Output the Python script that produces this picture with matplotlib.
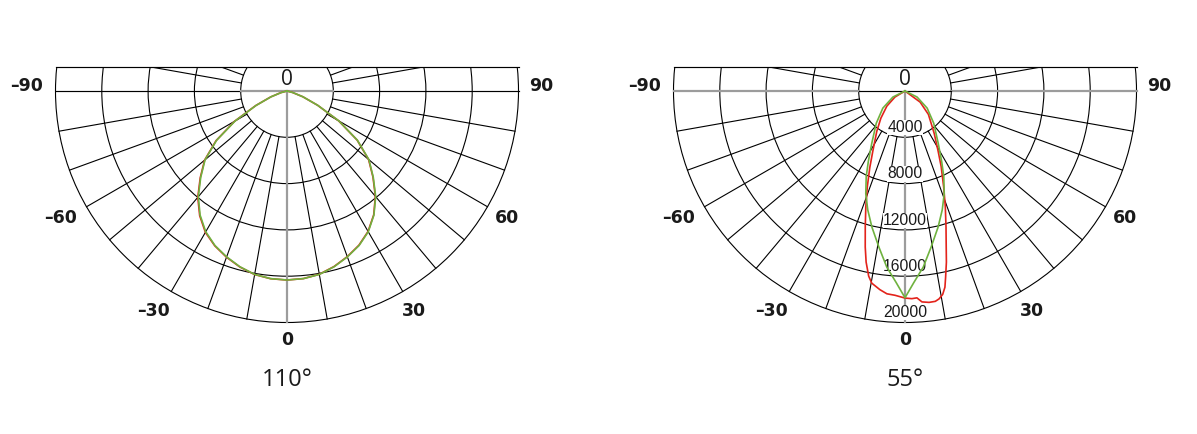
import numpy as np
import matplotlib.pyplot as plt
from matplotlib.patches import Rectangle, Circle

# figure size in pixels
W, H = 1197, 434

# polar grid (candela)
RINGS = [4000, 8000, 12000, 16000, 20000]
RING_LABELS = ["4000", "8000", "12000", "16000", "20000"]
SPOKES = list(range(-110, 111, 10))
ANGLE_TICKS = [-90, -60, -30, 0, 30, 60, 90]
ANGLE_TICK_LABELS = ["–90", "–60", "–30", "0", "30", "60", "90"]
TITLES = ["110°", "55°"]

# 110 degree beam, both planes nearly identical
wide_angles = [-90, -80, -75, -70, -65, -60, -55, -50, -45, -40, -35, -30, -25, -20, -15, -10, -5,
               0, 5, 10, 15, 20, 25, 30, 35, 40, 45, 50, 55, 60, 65, 70, 75, 80, 90]
wide_red = [0, 0, 560, 1500, 2980, 5230, 7480, 9290, 10600, 11990, 13150, 14100, 14760, 15280,
            15740, 16100, 16280, 16330, 16270, 16080, 15700, 15230, 14700, 14010, 13060, 11880,
            10500, 9200, 7400, 5150, 2920, 1460, 500, 0, 0]
wide_green = [0, 0, 520, 1470, 2940, 5180, 7430, 9240, 10540, 11920, 13090, 14040, 14730, 15250,
              15720, 16090, 16270, 16330, 16270, 16090, 15720, 15250, 14730, 14040, 13090, 11920,
              10540, 9240, 7430, 5180, 2940, 1470, 520, 0, 0]

# 55 degree beam, C0 plane (red)
narrow_red_angles = [-90, -70, -59, -50.2, -41.6, -35, -28.1, -24.7, -21.5, -18.7, -16.3, -14.3,
                     -12.8, -11.1, -9.8, -7.2, -5.1, -2.8, 0, 1.9, 3.3, 4.6, 6.5, 8.2, 9.3, 10.5,
                     11.5, 12.3, 13.6, 14.8, 16.8, 19.2, 22, 25.6, 28.8, 34.6, 45, 53.7, 70, 90]
narrow_red = [0, 0, 1010, 2040, 3140, 4250, 5910, 7280, 8880, 10560, 12230, 13910,
              15160, 16300, 16850, 17300, 17590, 17670, 17890, 17950, 17900, 18280, 18380, 18360,
              18200, 17870, 17300, 16470, 15210, 13940, 12260, 10590, 8910, 7230, 5950, 4440,
              2860, 1620, 0, 0]

# 55 degree beam, C90 plane (green)
narrow_green_angles = [-90, -75, -63.4, -52.3, -41.7, -32.4, -27.5, -24.4, -20.9, -17.4, -13.7,
                       -9.5, -5.9, -2.7, 0, 2.7, 5.9, 9.5, 13.7, 17.4, 20.9, 24.4, 27.5, 32.4,
                       41.7, 52.3, 63.4, 75, 90]
narrow_green = [0, 0, 1170, 2420, 3730, 5360, 6860, 8110, 9500, 10760, 12090,
                13670, 15300, 16540, 17860, 16540, 15300, 13670, 12090, 10760, 9500, 8110, 6860,
                5360, 3730, 2420, 1170, 0, 0]

RED = "#e3231b"
GREEN = "#6fb23f"
GRAY = "#9c9c9c"
INK = "#1a1a1a"

R = RINGS[-1]
PX = R / 231.5          # candela per pixel
CY = 91                 # pixel row of the polar origin
TOP = 23.7 * PX         # top border above origin


def to_xy(angles, values):
    a = np.radians(np.asarray(angles, dtype=float))
    r = np.asarray(values, dtype=float)
    return r * np.sin(a), -r * np.cos(a)


def draw_panel(ax, left_px, width_px, cx_px, red, green, title, show_values, outer_gray):
    ax.set_xlim(-(cx_px - left_px) * PX, (left_px + width_px - cx_px) * PX)
    ax.set_ylim(-(H - CY) * PX, CY * PX)
    ax.axis("off")

    clip = Rectangle((-R * 1.02, -R * 1.02), R * 2.04, R * 1.02 + TOP, transform=ax.transData)

    for r in RINGS:
        c = Circle((0, 0), r, fill=False, ec="black", lw=0.8, zorder=1)
        ax.add_patch(c)
        c.set_clip_path(clip)

    for a in SPOKES:
        if a in (0, -90, 90):
            continue
        x, y = to_xy([a, a], [RINGS[0], R])
        ln, = ax.plot(x, y, color="black", lw=0.8, zorder=1)
        ln.set_clip_path(clip)

    # axis lines: gray / black swap between the two diagrams
    out_col = GRAY if outer_gray else "black"
    in_col = "black" if outer_gray else GRAY
    out_lw = 1.6 if outer_gray else 0.85
    in_lw = 0.85 if outer_gray else 1.6
    ax.plot([-R, -RINGS[0]], [0, 0], color=out_col, lw=out_lw, zorder=1.5)
    ax.plot([RINGS[0], R], [0, 0], color=out_col, lw=out_lw, zorder=1.5)
    ax.plot([-RINGS[0], RINGS[0]], [0, 0], color=in_col, lw=in_lw, zorder=1.5)
    ax.plot([0, 0], [0, -R], color=GRAY, lw=1.6, zorder=1.5)
    ax.plot([-R, R], [TOP, TOP], color="black", lw=0.85, zorder=1.5)

    if show_values:
        for r, lab in zip(RINGS, RING_LABELS):
            ax.annotate(lab, (0, -r), xytext=(0, 7), textcoords="offset points",
                        ha="center", va="center", fontsize=11.3, family="Liberation Sans",
                        color=INK, zorder=3,
                        bbox=dict(fc="white", ec="none", pad=0.1))

    ax.text(0, 11 * PX, "0", ha="center", va="center", fontsize=15,
            family="Open Sans", color=INK, zorder=3)

    for a, lab in zip(ANGLE_TICKS, ANGLE_TICK_LABELS):
        rad = np.radians(a)
        dist = 249 if a == 0 else 254
        x = dist * PX * np.sin(rad)
        y = -dist * PX * np.cos(rad)
        dx = -4.5 if a < 0 else 0
        dy = 3.5 if abs(a) == 90 else 0
        ax.annotate(lab, (x, y), xytext=(dx, dy), textcoords="offset points",
                    ha="center", va="center", fontsize=12.5, family="DejaVu Sans",
                    fontweight="bold", color=INK)

    for (ang, val), col in zip((red, green), (RED, GREEN)):
        x, y = to_xy(ang, val)
        ax.plot(x, y, color=col, lw=1.2, zorder=4, solid_joinstyle="round")

    ax.text(0, -(380 - CY) * PX, title, ha="center", va="center", fontsize=17,
            family="Open Sans", color=INK)


fig = plt.figure(figsize=(W / 100, H / 100), dpi=100)
fig.patch.set_facecolor("white")

ax1 = fig.add_axes([0, 0, 597 / W, 1])
draw_panel(ax1, 0, 597, 287, (wide_angles, wide_red), (wide_angles, wide_green),
           TITLES[0], False, False)

ax2 = fig.add_axes([597 / W, 0, 600 / W, 1])
draw_panel(ax2, 597, 600, 905, (narrow_red_angles, narrow_red),
           (narrow_green_angles, narrow_green), TITLES[1], True, True)

fig.savefig("out.png", dpi=100, facecolor="white")
